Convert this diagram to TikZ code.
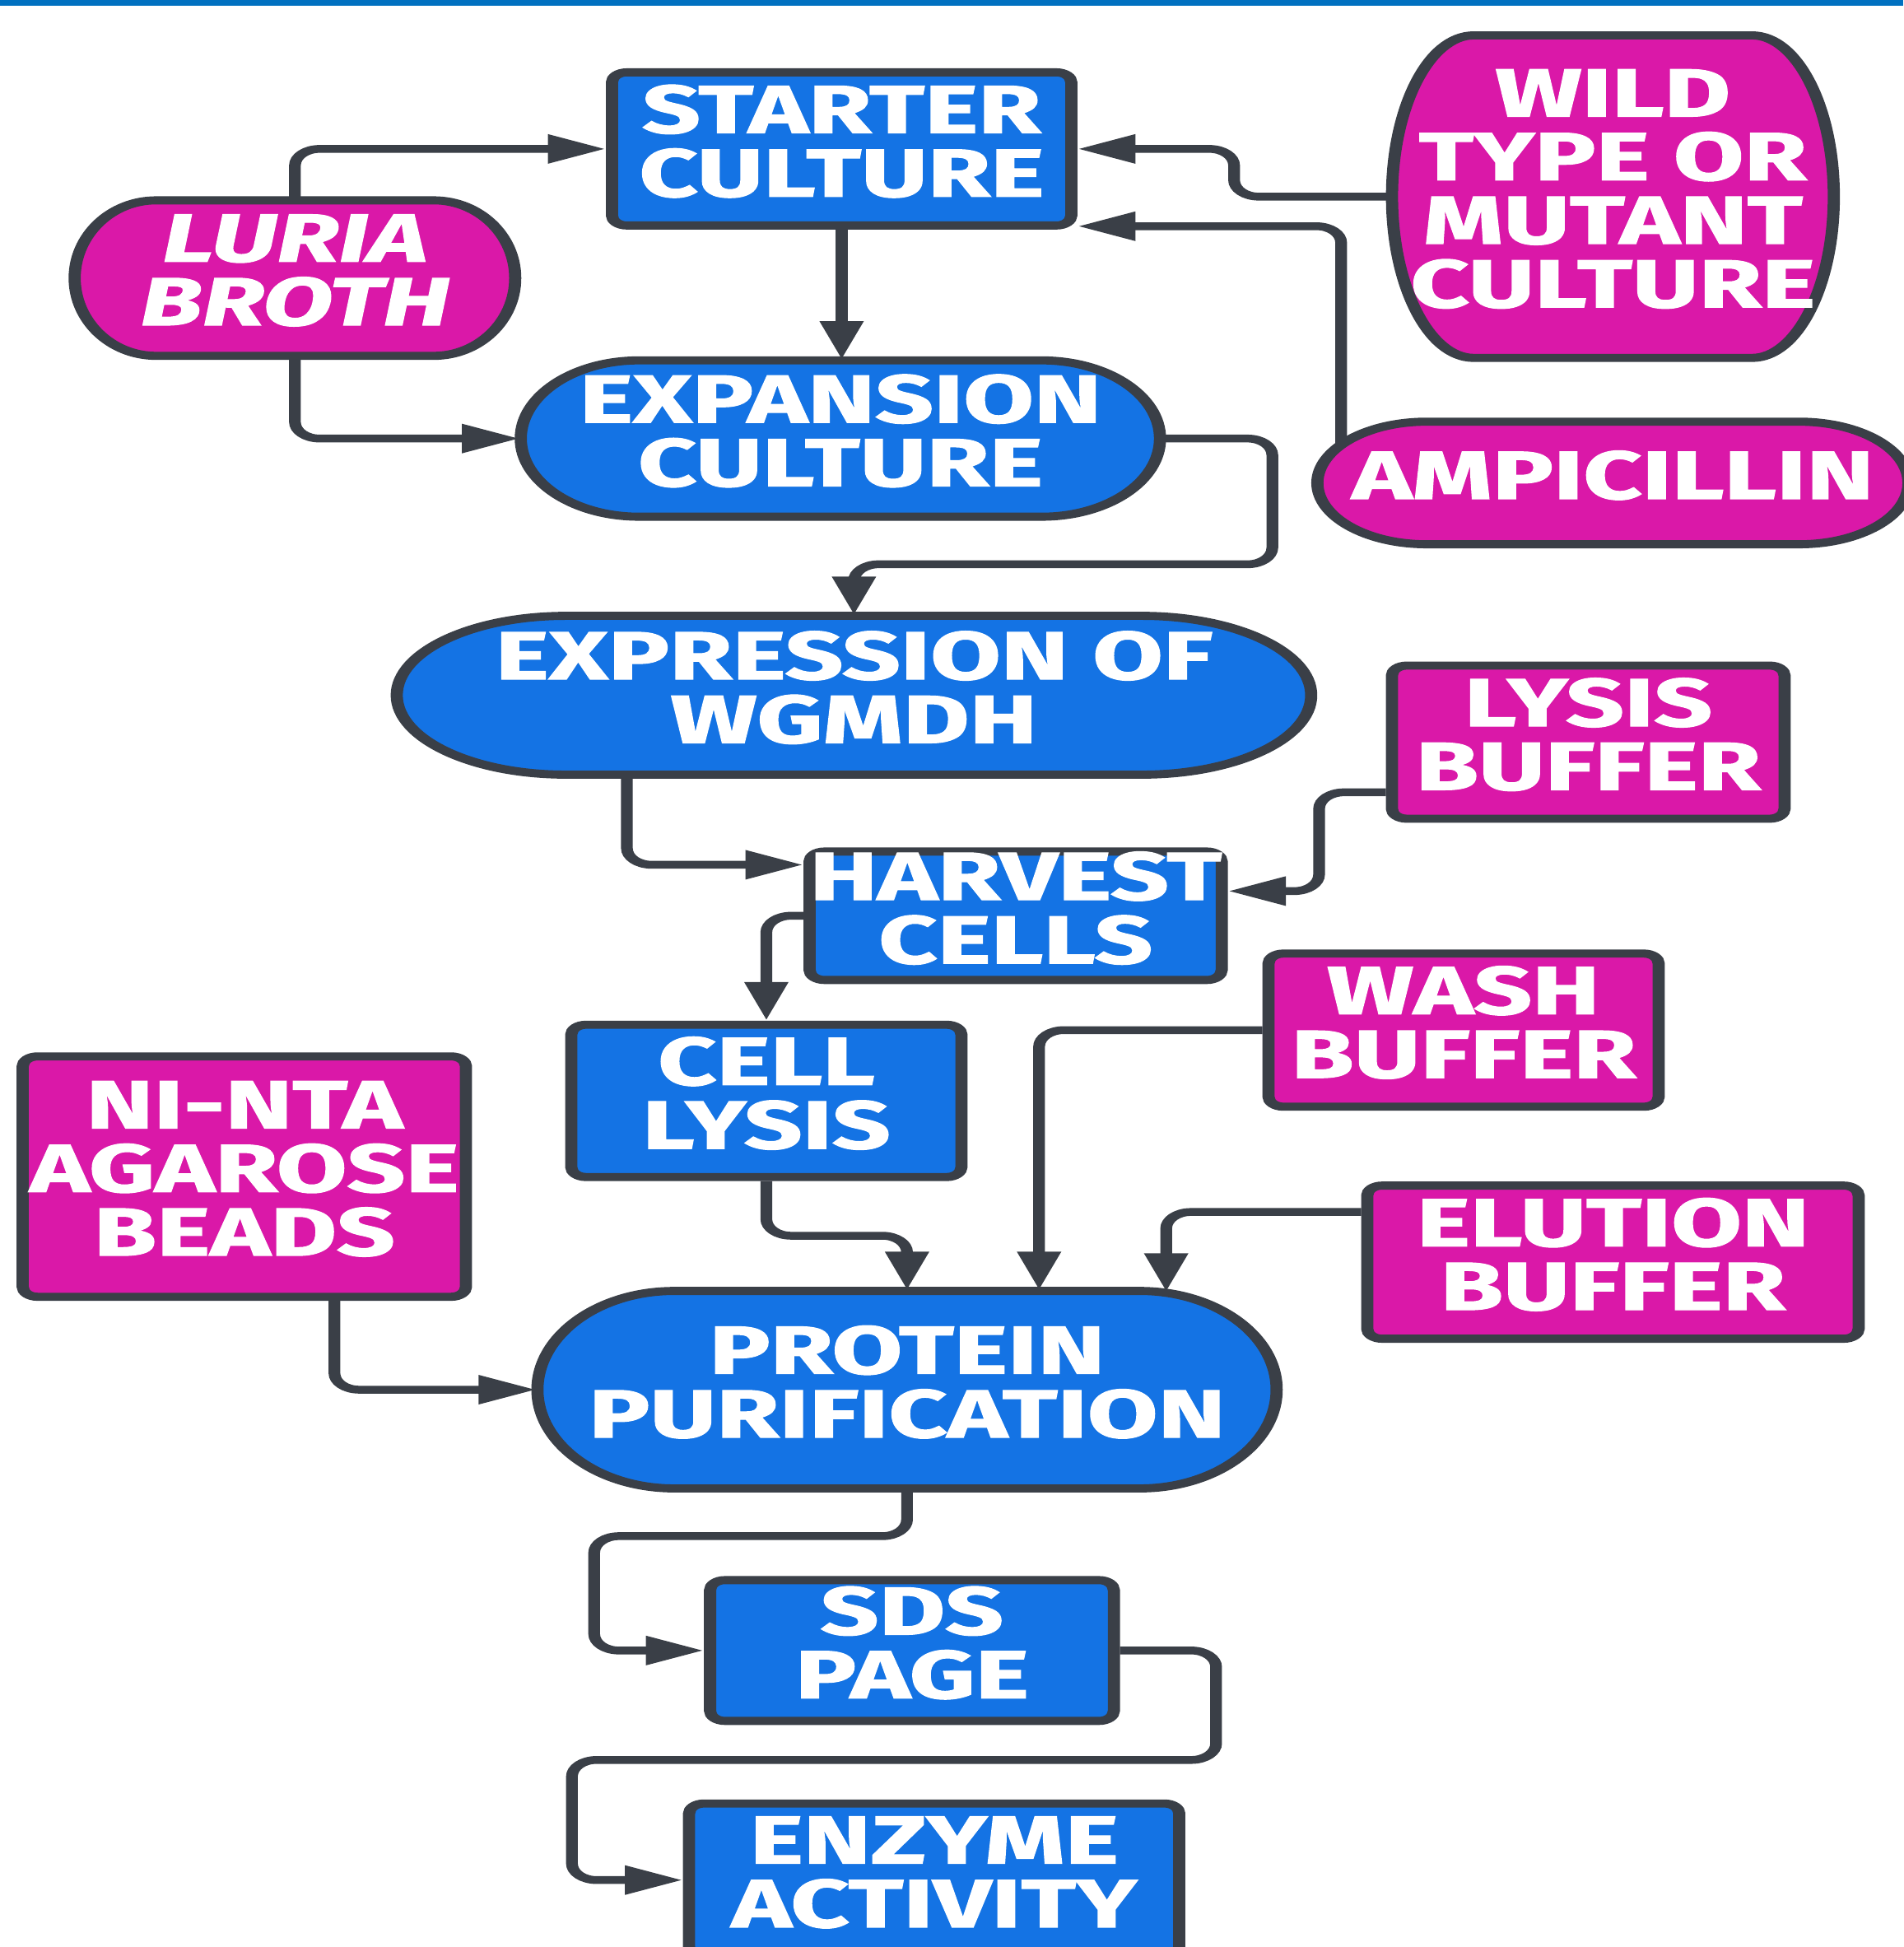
\documentclass[tikz,border=0pt]{standalone}
\usepackage{fontspec}
\setmainfont{Fira Sans}[BoldFeatures={FakeBold=1.3}, BoldItalicFeatures={FakeBold=1.3}]
\usetikzlibrary{calc}
\usetikzlibrary{arrows.meta}
\definecolor{FlowBlue}{RGB}{20,115,228}
\definecolor{FlowPink}{RGB}{218,24,168}
\definecolor{FlowEdge}{RGB}{58,63,71}
\definecolor{FlowBar}{RGB}{0,112,192}
\tikzset{
  stage/.style={draw=FlowEdge, line width=2.8pt},
  boxtext/.style={text=white, align=center, inner sep=0pt,
    font=\bfseries\fontsize{23.5}{22}\selectfont,
    execute at end node={\rule[-2mm]{0pt}{0pt}}},
  procbox/.style={boxtext, stage, rounded corners=0.12cm, fill=FlowBlue},
  inbox/.style={procbox, fill=FlowPink},
  link/.style={draw=FlowEdge, line width=2.7pt, rounded corners=0.2cm,
    -{Triangle[length=0.47cm,width=0.33cm]}}
}
% pill shaped node: name, fill, x, y, width, height, text
\newcommand{\pillnode}[7]{%
  \draw[stage, fill=#2]
    ({#3-0.315*#5},{#4-#6/2}) -- ({#3+0.315*#5},{#4-#6/2})
    arc[start angle=-90, end angle=90, x radius={0.185*#5}, y radius={#6/2}]
    -- ({#3-0.315*#5},{#4+#6/2})
    arc[start angle=90, end angle=270, x radius={0.185*#5}, y radius={#6/2}]
    -- cycle;
  \node[boxtext, minimum width={#5*0.01cm}, minimum height={#6*0.01cm}] (#1) at (#3,#4) {#7};%
}

\begin{document}
\begin{tikzpicture}
  \useasboundingbox (0,0) rectangle (23.12,-23.65);
  \fill[FlowBar] (0,0) rectangle (23.12,-0.07);
  \begin{scope}[x=0.01cm, y=-0.01cm, transform canvas={xscale=1.5}]
    % blue stages
    \node[procbox, minimum width=3.72cm, minimum height=1.86cm] (starter) at (682,181) {STARTER\\CULTURE};
    \pillnode{expansion}{FlowBlue}{681}{533}{518}{190}{EXPANSION\\CULTURE}
    \pillnode{expression}{FlowBlue}{692}{845}{741}{193}{EXPRESSION OF\\WGMDH}
    \node[procbox, minimum width=3.18cm, minimum height=1.56cm] (harvest) at (823,1113) {HARVEST\\CELLS};
    \node[procbox, minimum width=3.16cm, minimum height=1.85cm] (celllysis) at (621,1338) {CELL\\LYSIS};
    \pillnode{protein}{FlowBlue}{735}{1689}{599}{240}{PROTEIN\\PURIFICATION}
    \node[procbox, minimum width=3.27cm, minimum height=1.71cm] (sds) at (739,2006) {SDS\\PAGE};
    \node[procbox, minimum width=3.97cm, minimum height=1.86cm] (enzyme) at (757,2285) {ENZYME\\ACTIVITY};
    % pink inputs
    \pillnode{luria}{FlowPink}{239}{338}{357}{189}{\itshape LURIA\\\itshape BROTH}
    \pillnode{wild}{FlowPink}{1307}{239}{358}{392}{WILD\\TYPE OR\\MUTANT\\CULTURE}
    \pillnode{amp}{FlowPink}{1307}{587}{479}{149}{AMPICILLIN}
    \node[inbox, minimum width=3.18cm, minimum height=1.86cm] (lysisbuf) at (1287,902) {LYSIS\\BUFFER};
    \node[inbox, minimum width=3.16cm, minimum height=1.86cm] (wash) at (1186,1252) {WASH\\BUFFER};
    \node[inbox, minimum width=3.59cm, minimum height=2.92cm] (nta) at (198,1430) {NI-NTA\\AGAROSE\\BEADS};
    \node[inbox, minimum width=3.98cm, minimum height=1.86cm] (elution) at (1307,1534) {ELUTION\\BUFFER};

    % connectors
    \draw[link] (luria.north) |- (starter.west);
    \draw[link] (luria.south) |- (expansion.west);
    \draw[link] (starter.south) -- (starter.south |- expansion.north);
    \draw[link] (wild.west) -| ($(starter.east)+(127,0)$) -- (starter.east);
    \draw[link] ($(amp.west)+(20,-47)$) |- ($(starter.south east)+(0,-4)$);
    \draw[link] (expansion.east) -| ($(expression.north)+(339,-62)$) -| (expression.north);
    \draw[link] ($(expression.south)+(-184,0)$) |- ($(harvest.north west)+(0,21)$);
    \draw[link] ($(lysisbuf.south west)+(0,-37)$) -| ($(harvest.east)+(74,-30)$) -- ($(harvest.east)+(0,-30)$);
    \draw[link] (harvest.west) -| (celllysis.north);
    \draw[link] (wash.west) -| ($(protein.north)+(107,0)$);
    \draw[link] (celllysis.south) |- ($(celllysis.south)!0.5!(protein.north)$) -| (protein.north);
    \draw[link] ($(elution.north west)+(0,37)$) -| ($(protein.north)+(210,2)$);
    \draw[link] ($(nta.south)+(73,0)$) |- (protein.west);
    \draw[link] (protein.south) |- ($(sds.west)+(-89,-139)$) |- (sds.west);
    \draw[link] (sds.east) -| ($(enzyme.west)+(432,-146)$) -- ($(enzyme.west)+(-90,-146)$) |- (enzyme.west);
  \end{scope}
\end{tikzpicture}
\end{document}
